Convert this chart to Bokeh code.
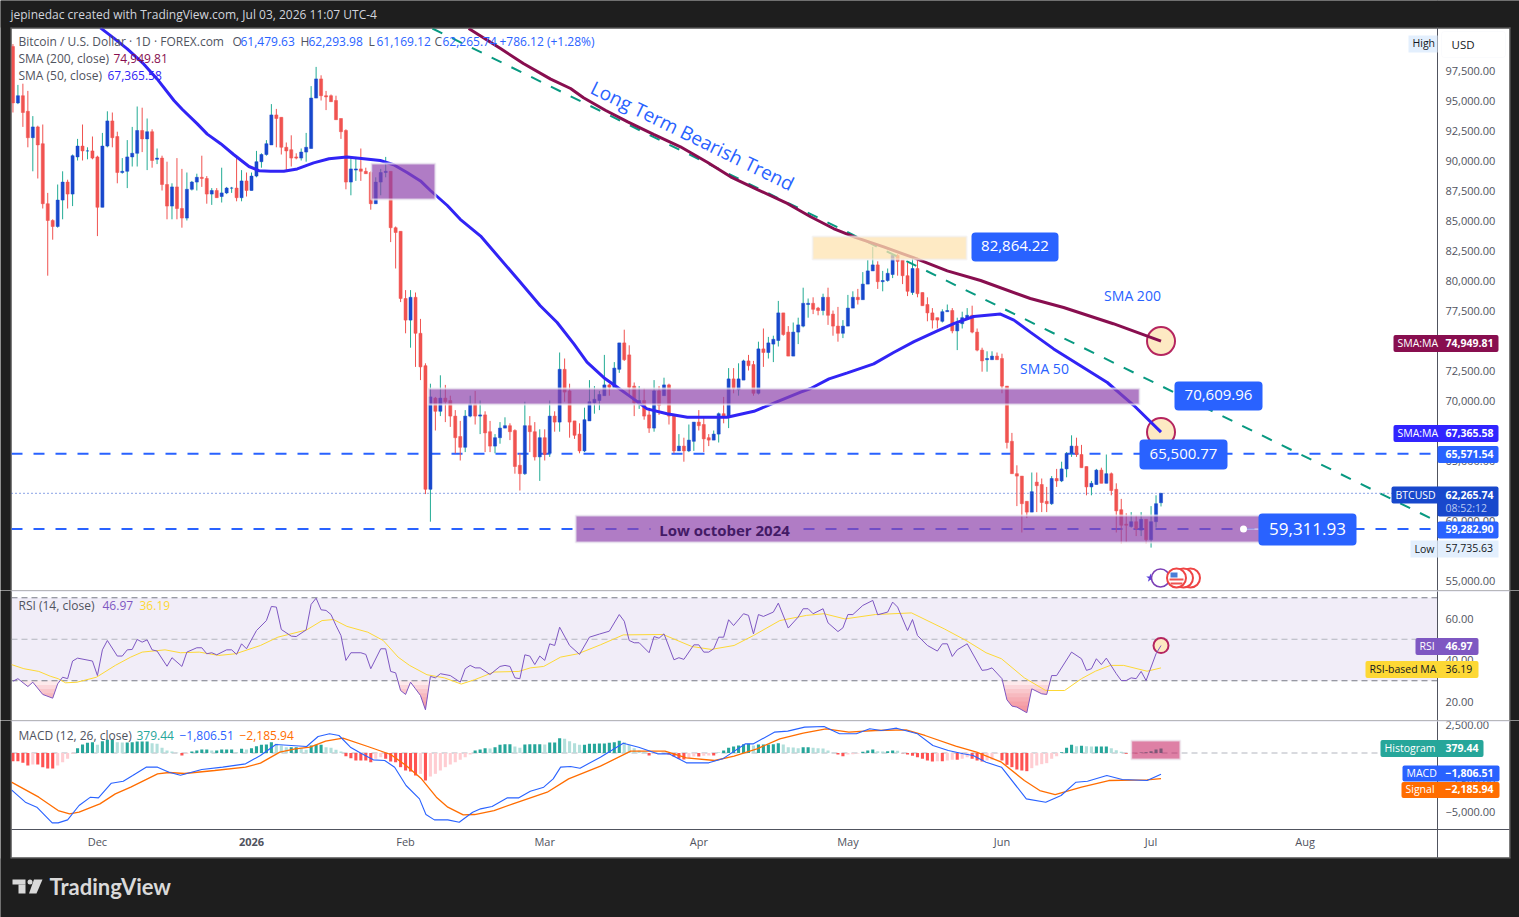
from bokeh.plotting import figure
from bokeh.layouts import column
from bokeh.embed import file_html
from bokeh.resources import INLINE
from bokeh.models import (Range1d, FixedTicker, NumeralTickFormatter, Label, BoxAnnotation,
                          PolyAnnotation, LinearAxis)
import numpy as np

# ---------- candles, prices in thousands of USD ----------
opens = [99.5,94.8,95.4,94.1,91.9,92.8,91.4,86.4,85.0,84.5,
 86.7,88.2,87.2,90.3,91.2,90.8,90.8,90.3,86.1,91.2,
 93.3,92.0,89.0,89.1,90.3,90.6,92.5,91.8,92.4,90.1,
 90.2,88.0,86.2,87.8,86.0,85.2,87.6,88.2,88.6,88.5,
 87.2,87.5,87.0,87.3,87.7,87.7,86.9,88.3,87.5,88.7,
 89.9,90.5,91.3,93.8,93.6,91.1,90.9,90.3,90.2,90.7,
 91.0,95.2,96.8,95.4,95.4,95.0,93.5,92.5,88.2,89.2,
 89.3,89.1,89.0,86.4,88.2,89.0,89.1,84.4,84.1,78.5,
 76.7,78.6,75.6,72.9,62.6,70.2,69.1,70.2,70.0,68.7,
 67.0,66.1,68.7,69.7,68.7,68.8,67.4,66.2,66.9,67.7,
 67.9,67.5,64.6,63.9,67.9,67.4,65.3,66.9,65.6,68.7,
 68.2,72.6,70.8,68.3,67.2,65.8,68.3,69.8,70.0,70.4,
 71.3,71.1,72.6,74.8,73.8,71.2,69.7,70.0,68.8,67.7,
 70.8,70.4,71.3,68.7,65.8,66.2,65.8,66.6,68.2,68.0,
 66.9,66.7,67.2,68.9,68.6,71.8,70.9,71.7,73.3,73.0,
 70.6,74.3,74.0,74.7,75.0,77.3,75.7,73.7,75.7,76.2,
 78.0,78.1,77.7,77.5,78.6,77.2,76.2,75.6,76.2,77.7,
 78.6,78.4,79.7,80.8,81.3,79.9,80.0,80.5,82.1,81.7,
 80.4,79.0,81.0,79.0,78.0,77.3,76.9,76.6,77.4,77.5,
 75.8,76.4,76.8,77.1,75.7,74.2,73.4,73.4,73.7,73.5,
 71.2,66.6,63.9,63.7,61.6,60.7,63.2,63.0,61.6,61.4,
 63.5,63.3,64.3,65.6,66.2,65.5,64.5,62.8,63.0,64.2,
 63.1,63.9,62.6,60.9,59.7,59.5,59.9,59.2,60.1,58.4,59.9,61.48]
highs = [99.7,96.3,96.4,95.8,93.7,92.9,93.0,87.3,85.1,88.0,
 89.1,88.4,90.5,91.8,93.0,91.1,92.0,90.4,92.3,94.1,
 94.0,92.4,90.2,91.7,92.8,94.5,94.4,93.5,92.6,91.0,
 90.4,89.9,88.1,90.2,89.3,89.0,88.3,88.9,90.4,88.7,
 87.7,87.7,89.4,87.8,87.8,90.3,89.2,89.0,89.0,90.8,
 90.6,91.7,94.7,94.3,93.6,91.5,92.1,90.6,91.0,92.3,
 96.2,97.8,97.1,95.8,95.5,95.4,93.5,92.6,90.3,90.3,
 91.0,89.4,89.1,88.6,89.3,90.3,89.1,84.5,84.1,79.2,
 79.2,79.0,76.8,73.1,71.4,70.3,72.1,71.3,70.4,69.2,
 68.3,69.2,70.4,70.8,70.0,69.1,68.3,67.2,68.2,68.6,
 68.1,67.6,65.6,69.9,68.7,68.2,67.6,67.6,70.0,69.1,
 74.0,73.5,71.4,68.3,68.1,69.4,71.7,71.2,70.8,73.8,
 71.4,73.2,74.8,75.9,74.6,71.5,71.2,71.0,69.4,71.7,
 71.2,71.9,71.4,68.7,67.2,66.9,68.0,68.2,69.2,68.7,
 67.2,67.5,69.0,70.3,72.7,72.7,73.1,73.4,73.8,73.3,
 74.9,76.0,75.3,75.4,78.3,77.3,76.2,76.5,76.9,79.4,
 78.5,78.6,77.8,78.9,79.4,77.5,77.8,76.7,78.8,79.1,
 79.3,80.7,81.7,82.8,81.6,80.8,81.0,82.2,82.2,81.7,
 81.5,81.9,81.9,79.0,78.6,77.7,76.9,77.6,78.0,77.7,
 76.9,77.4,77.7,77.9,76.0,74.4,74.1,74.1,74.0,73.9,
 71.2,67.3,64.6,63.7,61.6,64.0,64.0,63.5,62.8,63.7,
 64.3,64.9,65.7,67.1,66.9,66.3,64.5,63.3,64.3,64.4,
 65.5,64.0,63.1,61.8,60.6,60.7,60.4,60.7,60.1,61.2,62.1,62.29]
lows = [94.0,94.7,92.8,91.1,89.1,88.5,86.0,80.4,83.4,84.4,
 85.1,86.0,86.2,90.0,90.0,90.1,90.1,83.7,86.1,91.1,
 91.1,88.1,88.9,87.7,89.5,89.5,90.7,89.2,89.4,89.7,
 87.5,85.1,85.1,85.1,84.4,85.0,87.5,87.5,87.8,86.4,
 86.3,86.9,86.5,87.2,87.3,86.6,86.6,87.0,87.5,88.6,
 89.4,90.4,91.3,91.1,90.5,89.1,89.5,90.1,90.0,89.9,
 91.0,95.2,95.0,94.2,94.9,93.4,91.8,87.6,87.1,88.3,
 88.3,88.9,85.9,86.4,87.1,88.6,83.2,81.0,78.2,75.6,
 74.4,72.8,71.7,62.2,59.9,67.5,68.7,68.2,67.8,65.6,
 65.0,65.7,68.6,68.0,67.2,65.7,65.7,65.6,66.4,67.7,
 66.7,63.9,62.5,63.8,65.7,65.0,63.3,65.0,65.3,67.4,
 67.4,69.9,66.9,66.8,65.6,65.7,68.3,68.9,69.2,70.4,
 70.4,71.1,72.3,73.3,70.4,68.7,69.3,68.4,67.3,67.4,
 68.8,70.4,68.0,65.6,65.8,64.9,65.7,65.8,67.5,65.7,
 66.2,66.7,66.5,68.1,67.7,70.6,70.4,71.7,72.5,70.4,
 70.5,72.8,73.5,73.2,74.5,75.4,73.7,73.7,74.7,76.1,
 76.9,77.2,77.1,77.1,76.3,75.4,74.9,75.2,76.2,77.7,
 78.0,78.4,79.7,80.8,79.3,79.1,79.9,80.2,80.4,79.7,
 78.7,78.8,78.6,77.9,76.6,76.0,76.0,76.5,77.4,75.6,
 74.2,76.0,76.8,75.6,74.1,72.4,72.4,73.4,73.4,70.6,
 66.0,63.9,61.2,59.0,60.2,60.7,60.7,60.7,60.7,61.3,
 62.8,63.2,63.6,65.3,65.3,64.4,62.1,62.1,63.0,63.1,
 63.1,62.1,59.0,58.1,58.2,59.4,58.7,58.7,58.1,57.74,59.4,61.17]
closes = [94.8,95.4,94.0,91.9,92.8,91.3,86.4,85.0,84.5,86.7,
 88.2,87.2,90.4,91.2,90.8,90.8,90.2,86.1,91.2,93.3,
 91.9,89.0,89.1,90.3,90.6,92.5,91.8,92.4,90.0,90.2,
 88.0,86.2,87.8,86.0,85.2,87.6,88.2,88.6,88.5,87.2,
 87.5,86.9,87.3,87.7,87.7,86.9,88.3,87.5,88.7,89.9,
 90.5,91.4,93.8,93.5,91.1,90.8,90.2,90.2,90.7,91.1,
 95.2,96.8,95.4,95.3,94.9,93.4,92.4,88.2,89.3,89.3,
 89.1,88.9,86.4,88.2,89.0,89.1,84.4,84.0,78.5,76.7,
 78.6,75.6,72.8,62.6,70.3,69.1,70.2,69.9,68.7,66.9,
 66.1,68.7,69.7,68.7,68.8,67.3,66.2,66.9,67.7,67.9,
 67.4,64.5,63.9,67.9,67.4,65.3,66.9,65.5,68.7,68.2,
 72.6,70.7,68.2,67.1,65.8,68.4,69.9,70.1,70.5,71.3,
 71.1,72.7,74.8,73.4,71.1,69.8,70.0,68.7,67.7,70.8,
 69.6,71.3,68.7,65.8,66.2,65.8,66.7,68.2,67.9,66.8,
 66.7,67.2,68.9,68.7,71.8,71.0,71.8,73.3,72.9,70.6,
 74.3,74.0,74.8,75.1,77.3,75.5,73.7,75.7,76.3,78.1,
 78.1,77.6,77.5,78.6,77.1,76.2,75.6,76.2,77.7,78.6,
 78.4,79.7,80.8,81.3,79.9,80.0,80.6,82.1,81.6,80.4,
 79.1,81.0,78.9,77.9,77.3,76.7,76.7,77.4,77.5,75.8,
 76.4,76.9,77.1,75.7,74.2,73.3,73.5,73.7,73.4,71.2,
 66.5,63.9,63.7,61.4,60.7,62.4,62.9,61.5,61.4,63.5,
 63.3,64.3,65.6,66.2,65.5,64.4,62.8,63.1,64.2,63.1,
 63.9,62.5,60.8,59.6,59.6,59.9,59.3,60.1,58.4,59.9,61.4,62.27]
first_day = -48   # days from 1 Jan 2026 of the first candle

# ---------- moving averages (day, price in thousands) ----------
sma50_days = [-30.4,-27.7,-25,-21.7,-19,-15.6,-13.9,-10.9,-8.9,-6.2,-3.6,-0.5,1.5,3.8,6.5,9.2,12.5,15.6,19.2,22.6,25.9,28.6,31.3,34,36,39.4,42,46.1,
 53.8,58.1,61.5,64.9,67.5,70.9,73.6,76.3,79.6,83.6,87.7,91.7,95.7,101.1,105.8,110.5,112.5,116.2,119.9,125.2,129.2,133.3,138,141.3,145.3,150.7,153.4,156.7,161.4,166.8,172.2,177.5,183]
sma50_vals = [101.05,100.2,99.3,98.05,96.8,95.0,94.25,93.05,92.2,91.4,90.5,89.5,89.15,89.1,89.1,89.3,89.8,90.15,90.3,90.15,90.0,89.65,89.0,88.3,87.5,86.25,85.1,83.7,
 80.0,77.9,76.5,74.7,73.2,71.9,71.1,70.3,69.3,68.9,68.6,68.6,68.6,69.1,69.9,70.7,71.0,71.8,72.3,73.05,74.0,74.9,75.8,76.4,77.0,77.2,76.7,75.7,74.3,72.9,71.5,69.6,67.37]
sma200_days = [43.7,50.1,54.7,60.2,64.2,66.8,71.2,75.7,80.9,86.3,91.8,96.4,101.8,107.8,112.5,117.1,121.5,127.2,133.2,140,146.7,156.7,163.4,173.4,183]
sma200_vals = [101.0,99.33,98.08,96.78,96.0,95.23,94.19,93.22,92.17,91.14,89.83,88.64,87.58,86.42,85.31,84.33,83.6,82.8,81.9,80.8,80.0,78.5,77.75,76.4,74.95]

trend_days = [36.4, 237.2]
trend_vals = [101.0, 60.2]
level_prices = [65.57154, 59.2829]
last_close = 62.26574

# ---------- RSI ----------
rsi_days = [-48,-47,-45,-44,-42,-40,-39,-38,-37,-36,-35,-32,-31,-30,-29,-27,-26,-25,-24,-23,-22,-21,-20,-19,-17,-16,-14,-13,-11,-10,-9,-8,-7,-5,-4,-3,-2,-1,1,3,4,5,6,8,9,11,12,13,14,15,16,17,18,19,20,22,23,24,26,27,28,29,30,31,32,33,34,35,36,37,38,40,42,43,44,45,46,48,50,51,52,53,54,55,56,57,58,59,60,61,62,64,66,68,70,
 72,74,75,76,77,78,80,81,82,83,85,86,87,89,90,91,92,93,94,95,96,97,99,100,101,102,103,105,106,108,110,111,112,113,115,116,118,119,120,121,123,125,126,128,129,130,132,133,134,136,138,139,140,141,142,144,147,148,149,151,152,153,154,156,157,159,160,161,162,165,167,168,169,170,171,172,174,175,176,177,178,179,180,182,183]
rsi_vals = [29.8,31.0,27.2,29.3,23.4,21.6,28.5,31.7,31.0,39.5,40.9,39.5,32.5,44.9,49.4,41.9,41.9,44.9,45.1,49.9,48.6,49.7,44.9,44.3,37.0,41.1,36.9,43.8,45.9,45.9,43.0,43.5,42.5,44.9,44.9,42.7,47.8,45.4,54.2,59.0,65.8,65.5,54.7,51.5,51.3,54.5,66.8,69.8,64.2,63.9,61.9,56.6,51.8,39.8,43.5,43.5,42.7,35.8,45.4,45.4,34.5,33.8,25.3,23.4,29.3,26.1,22.9,16.0,32.1,31.4,33.4,32.5,29.3,35.8,37.4,36.2,36.2,33.0,36.9,37.4,36.9,31.4,31.0,42.5,41.9,37.8,41.9,39.8,47.8,47.0,55.8,47.0,42.7,51.0,52.5,
 53.9,61.9,58.7,49.4,48.3,48.3,43.5,51.3,50.5,52.6,40.1,41.1,40.3,47.3,47.3,43.8,43.8,45.4,51.0,51.0,59.4,56.6,62.3,61.5,52.6,61.9,61.0,63.1,67.4,55.4,60.7,64.7,64.7,62.3,64.7,57.9,53.7,55.5,61.9,61.9,66.3,68.7,61.8,63.1,67.9,65.5,54.2,59.5,51.8,47.0,44.3,47.8,47.8,41.7,44.9,47.8,35.0,35.3,36.2,31.0,20.8,17.8,17.3,14.6,26.1,23.7,23.4,32.5,32.5,43.8,40.6,35.0,35.8,40.6,37.8,40.9,33.4,30.1,30.1,31.4,31.0,34.5,30.1,43.0,46.97]
rsima_days = [-48.3,-45.8,-42.8,-40.5,-38.9,-37.4,-35.1,-31.2,-27.4,-24.3,-22,-17.4,-14.3,-10.5,-6.6,-3.2,1.8,5.3,11.1,14.2,16.5,19.2,23.4,26.5,29.5,31.8,35.3,38.8,42.2,44.9,48.8,53.8,56.1,58.8,62.2,65.7,70.2,
 74.8,82.8,88.6,92.5,97.1,101,106.3,111.7,115.2,119.4,125.5,132.8,139.4,144,147.8,150.9,155.5,159.8,163.6,167,169.8,172.8,175.5,180.2,183]
rsima_vals = [37.8,35.8,34.5,32.2,31.0,29.0,29.3,31.7,37.4,41.4,43.8,44.9,43.5,43.8,42.2,43.0,47.0,51.0,54.5,59.0,59.5,56.2,53.4,49.4,41.4,37.4,32.9,31.4,28.4,30.5,34.2,34.5,36.2,36.9,41.4,43.0,47.3,
 52.1,52.3,46.5,45.1,47.0,51.8,59.0,61.5,62.3,59.8,61.9,62.7,55.0,49.1,43.5,40.6,31.4,25.3,25.3,31.0,34.6,37.4,37.4,34.6,36.19]

# ---------- MACD ----------
macd_days = [-48.3,-45.5,-43.2,-40.1,-38.9,-37,-34.7,-32.4,-30.8,-28.2,-25.8,-23.9,-21.2,-18.9,-16.6,-14.3,-10,-5.8,-1.2,1.8,4.9,11.1,13.4,15.7,17.6,19.9,22.2,24.5,26.8,28.8,31.1,33.8,35.1,36.8,39.5,41.8,44.5,46.1,48.4,51.5,53.8,56.1,58.8,60.7,62.2,64.2,66.1,70.2,
 74.8,77.9,81.7,84,87.5,92,94.8,99.4,101,105.2,107.9,111.3,115.2,118.3,121.7,124.4,126.7,129.8,134,137.1,140.2,143.2,145.2,147.8,150.9,155.9,159.8,162.9,165.9,168.2,172.1,175.2,180.2,183]
macd_vals = [-3149,-4204,-4631,-5971,-5971,-5714,-4489,-3776,-3833,-2579,-2408,-1924,-1211,-1211,-1639,-1895,-1411,-1211,-926,-214,727,556,1411,1639,1496,499,-71,-584,-641,-1211,-2779,-3919,-5258,-5714,-5714,-5914,-5059,-4774,-4574,-3833,-3833,-3263,-2921,-2209,-1211,-1154,-1297,-356,
 841,499,-71,-71,-841,-841,-499,784,784,1781,1867,2209,2266,1639,1639,2066,1924,2123,1639,641,214,-71,-214,-784,-1211,-3919,-4204,-3634,-2494,-2408,-1924,-2266,-2351,-1806.51]
signal_days = [-48.3,-42.8,-38.9,-36.6,-34.7,-30.5,-27.4,-24.3,-18.9,-16.6,-13.5,-7.4,-1.2,1.8,5.7,8.8,11.8,14.9,18.4,23.4,28,31.1,34.2,37.2,39.5,42.6,44.9,48.8,52.6,59.5,63.8,70.2,
 76.3,83.2,87.5,93.2,97.1,101.7,106.3,111,115.6,120.2,125.5,131.7,135.5,141.7,145.9,150.9,155.5,158.6,161.7,167,172.5,180.2,183]
signal_vals = [-2494,-3776,-4916,-5201,-5059,-4346,-3491,-2921,-1781,-1667,-1753,-1496,-1211,-869,71,356,499,1012,1268,556,-128,-1069,-2209,-3776,-4631,-5287,-5258,-4916,-4346,-3349,-2209,-1126,
 157,157,-413,-641,-271,356,1211,1696,2066,1781,1924,1981,1496,584,71,-784,-2351,-3206,-3548,-2921,-2351,-2294,-2185.94]
hist_vals = [-698,-698,-841,-1069,-983,-983,-1211,-1325,-1325,-1069,-784,-499,-71,413,727,869,926,698,1012,1126,
 1126,926,898,898,926,983,983,983,841,784,442,214,128,14,-214,-71,128,214,299,299,
 214,214,299,299,299,71,356,299,413,584,698,727,926,784,641,499,499,499,413,271,
 641,698,698,499,442,271,128,-271,-442,-641,-641,-641,-784,-499,-356,-499,-727,-784,-1211,-1496,
 -1582,-1924,-1781,-2351,-2009,-1781,-1496,-1211,-983,-784,-584,-356,-128,214,299,413,385,499,698,755,
 755,556,442,727,755,755,755,727,898,898,1268,1211,1012,841,698,698,784,784,812,812,
 869,926,1040,926,698,413,214,100,-214,-71,-14,-43,-128,-299,-499,-556,-442,-299,-299,-242,
 -214,-214,14,214,442,556,641,755,784,641,727,727,727,755,841,727,499,470,413,499,
 499,442,413,385,214,14,-128,-271,-128,-100,-43,100,214,299,157,128,157,214,185,-14,
 -128,-242,-356,-499,-641,-727,-698,-698,-641,-584,-584,-499,-356,-499,-641,-727,-641,-584,-43,-641,
 -1012,-1211,-1411,-1496,-1553,-1297,-1069,-955,-869,-499,-271,71,442,698,584,613,584,556,556,556,
 556,413,242,100,-71,-14,-14,43,71,157,299,379.44]

# ---------- axis ticks ----------
price_ticks = list(range(55000, 100000, 2500))
rsi_ticks = [20, 40, 60]
macd_ticks = [-5000, -2500, 0, 2500]
month_days = [-31, 31, 59, 90, 120, 151, 181, 212]
month_names = ["Dec", "Feb", "Mar", "Apr", "May", "Jun", "Jul", "Aug"]

# ---------- styling ----------
FONT = "Open Sans"
DARK = "#1e1e1e"
BLUE = "#2962ff"
UP_BODY, UP_WICK, DOWN = "#1848cc", "#22ab94", "#f05350"
AXIS_TXT = "#50535e"
EDGE = "#50535e"
SEP = "#e0e0f0"
PURPLE = "#8e44ad"
FRAME = "#6a6a6a"

PX_L, PX_R = 11, 1437
fx = lambda px: (px - 251) / 4.97
x_range = Range1d(fx(0), fx(1519))
fyM = lambda py: 97500 + (70 - py) / 0.012
fyR = lambda py: 60 + (618 - py) / 2.075
fyD = lambda py: (752.5 - py) * 85.47

def make_pane(h, fy, top_px, ticks, overrides=None):
    # the frame fills the whole canvas; the price axis is pinned to its place in the frame
    p = figure(width=1519, height=h, x_range=x_range, y_range=Range1d(fy(top_px + h), fy(top_px)),
               output_backend="svg", toolbar_location=None,
               x_axis_location=None, y_axis_location=None,
               min_border=0, min_border_left=0, min_border_right=0,
               min_border_top=0, min_border_bottom=0,
               border_fill_color=DARK, background_fill_color=DARK)
    p.outline_line_color = None
    p.grid.visible = False
    ax = LinearAxis(fixed_location=fx(PX_R), ticker=FixedTicker(ticks=ticks),
                    formatter=NumeralTickFormatter(format="0,0.00"))
    if overrides:
        ax.major_label_overrides = overrides
    ax.major_tick_line_color = None
    ax.minor_tick_line_color = None
    ax.axis_line_color = EDGE
    ax.major_label_standoff = 2
    ax.major_label_text_font = FONT
    ax.major_label_text_font_size = "11px"
    ax.major_label_text_color = AXIS_TXT
    p.add_layout(ax, "right")
    return p

pM = make_pane(590, fyM, 0, price_ticks)
pR = make_pane(130, fyR, 590, rsi_ticks)
pD = make_pane(197, fyD, 720, macd_ticks, {-5000: "−5,000.00", -2500: "−2,500.00"})

def box(p, fy, x0, x1, y0, y1, color, level="annotation", radius=0, line=None, alpha=1.0):
    p.add_layout(BoxAnnotation(left=fx(x0), right=fx(x1), top=fy(y0), bottom=fy(y1),
                               fill_color=color, fill_alpha=alpha, line_color=line, level=level,
                               border_radius=radius, editable=False))

def txt(p, fy, x, y, text, size=12, color="#131722", align="left", style="normal", angle=0, font=FONT):
    p.add_layout(Label(x=fx(x), y=fy(y - 0.8), text=text, text_font=font, text_font_size=f"{size}px",
                       text_color=color, text_align=align, text_baseline="middle",
                       text_font_style=style, angle=angle, angle_units="deg"))

def tag(p, fy, y, value, vcolor, x_val_end=1498, name=None, x_name=None, tcolor="white", h=8.5):
    if name:
        box(p, fy, x_name, 1440, y - h, y + h, vcolor, radius=2)
    box(p, fy, 1437, x_val_end, y - h, y + h, vcolor, radius=2)
    if name:
        txt(p, fy, x_name + 4, y, name, 10.5, tcolor)
    txt(p, fy, 1445, y, value, 10.5, tcolor, style="bold" if tcolor == "white" else "normal")

# white chart area under everything
box(pM, fyM, 11, 1509, 28, 590, "white", level="underlay")
box(pR, fyR, 11, 1509, 590, 720, "white", level="underlay")
box(pD, fyD, 11, 1509, 720, 857, "white", level="underlay")

# dark top band hides what leaves the price pane at the top; chart frame
box(pM, fyM, 0, 1519, 0, 27, DARK)
box(pM, fyM, 10, 1510, 27, 28, FRAME)
for p_, f_, a_, b_ in ((pM, fyM, 27, 590), (pR, fyR, 590, 720), (pD, fyD, 720, 858)):
    box(p_, f_, 10, 11, a_, b_, FRAME)
    box(p_, f_, 1509, 1510, a_, b_, FRAME)
box(pD, fyD, 0, 1519, 858, 917, DARK)
box(pD, fyD, 10, 1510, 857, 858, FRAME)
box(pD, fyD, 11, 1509, 828.5, 829.5, EDGE)
box(pR, fyR, 11, 1509, 590, 591, SEP)
box(pD, fyD, 11, 1509, 720, 721, SEP)

# ---------- main pane ----------
days = first_day + np.arange(len(closes))
o, h, l, c = (np.array(a) * 1000 for a in (opens, highs, lows, closes))
up = c >= o

# circles under the lines
pM.scatter([183], [sma200_vals[-1] * 1000], size=28, fill_color="#fde9c3", line_color="#b5255f", line_width=2)
pM.scatter([183], [sma50_vals[-1] * 1000], size=28, fill_color="#fde9c3", line_color="#b5255f", line_width=2)

for lv in level_prices:
    pM.line([fx(PX_L), fx(PX_R)], [lv * 1000] * 2, color=BLUE, line_width=2, line_dash="11 11")
pM.line([fx(PX_L), fx(PX_R)], [last_close * 1000] * 2, color=UP_BODY, line_width=1, line_dash="1 3")

pM.segment(days[up], l[up], days[up], h[up], color=UP_WICK, line_width=1)
pM.segment(days[~up], l[~up], days[~up], h[~up], color=DOWN, line_width=1)
pM.vbar(days[up], 0.62, o[up], c[up], fill_color=UP_BODY, line_color=UP_BODY, line_width=0.5)
pM.vbar(days[~up], 0.62, c[~up], o[~up], fill_color=DOWN, line_color=DOWN, line_width=0.5)

pM.line(trend_days, np.array(trend_vals) * 1000, color="#089981", line_width=2, line_dash="11 11")
pM.line(sma200_days, np.array(sma200_vals) * 1000, color="#880e4f", line_width=3)
pM.line(sma50_days, np.array(sma50_vals) * 1000, color="#3124f5", line_width=3)

# zones
zones = [(24.1, 37.0, 86750, 89750), (35.6, 178.7, 69670, 71000), (65.2, 204.0, 58170, 60420)]
for z in zones:
    pM.quad(left=z[0], right=z[1], bottom=z[2], top=z[3], fill_color=PURPLE, fill_alpha=0.7,
            line_color="#f0f0f3", line_alpha=0.7, line_width=2)
pM.quad(left=112.9, right=143.9, bottom=81750, top=83670, fill_color="#fde3b0", fill_alpha=0.75,
        line_color="#f0f0f3", line_alpha=0.6, line_width=2)

# node and icons
pM.line([fx(1243), fx(1258)], [59282.9] * 2, color="#dfe7ff", line_width=1)
pM.scatter([fx(1243)], [59282.9], size=7, fill_color="white", line_color=None)
icon_y = fyM(577.5)
pM.scatter([fx(1150)], [icon_y], marker="star", size=9, fill_color="#5a3fd8", line_color=None)
pM.scatter([fx(1160)], [icon_y], size=18, fill_color="white", line_color="#7b3fb5", line_width=1.5)
for ix in (1190, 1183, 1176):
    pM.scatter([fx(ix)], [icon_y], size=19, fill_color="white", line_color="#ef4444", line_width=2)
box(pM, fyM, 1170, 1177, 572, 577, "#4a7fd8")
box(pM, fyM, 1169, 1183, 578, 580, "#ef5350")
box(pM, fyM, 1170, 1182, 582, 584, "#ef5350")

# annotation texts
txt(pM, fyM, 692, 136, "Long Term Bearish Trend", 19, BLUE, align="center", angle=-26.2)
txt(pM, fyM, 1132, 296, "SMA 200", 14, BLUE, align="center")
txt(pM, fyM, 1044, 369, "SMA 50", 14, BLUE, align="center")
box(pM, fyM, 650, 798, 523, 537, "#b07cc5")
txt(pM, fyM, 724, 530, "Low october 2024", 15, "#431a66", align="center", style="bold")
for xa_, xb_, ya_, yb_, s, fs in ((971, 1058, 232, 261, "82,864.22", 15), (1174, 1262, 381, 410, "70,609.96", 15),
                                  (1139, 1227, 439, 469, "65,500.77", 15), (1258, 1356, 513, 545, "59,311.93", 17)):
    box(pM, fyM, xa_, xb_, ya_, yb_, BLUE, radius=4)
    txt(pM, fyM, (xa_ + xb_) / 2, (ya_ + yb_) / 2, s, fs, "white", align="center")

# header of the page, legend
txt(pM, fyM, 10, 14.8, "jepinedac created with TradingView.com, Jul 03, 2026 11:07 UTC-4", 12, "#d1d4dc")
LEG = "#50535e"
txt(pM, fyM, 18, 42, "Bitcoin / U.S. Dollar · 1D · FOREX.com", 12, LEG)
for xl, xv, name, val in ((232, 240, "O", "61,479.63"), (300, 308, "H", "62,293.98"),
                          (368, 376, "L", "61,169.12"), (434, 442, "C", "62,265.74")):
    txt(pM, fyM, xl, 42, name, 12, LEG)
    txt(pM, fyM, xv, 42, val, 12, BLUE)
txt(pM, fyM, 499, 42, "+786.12 (+1.28%)", 12, BLUE)
txt(pM, fyM, 18, 59, "SMA (200, close)", 12, LEG)
txt(pM, fyM, 113, 59, "74,949.81", 12, "#880e4f")
txt(pM, fyM, 18, 76, "SMA (50, close)", 12, LEG)
txt(pM, fyM, 107, 76, "67,365.58", 12, "#3124f5")

# right tags
box(pM, fyM, 1408, 1437, 35, 52, "#e3effd")
txt(pM, fyM, 1412, 43.5, "High", 10.5, "#131722")
box(pM, fyM, 1441, 1505, 31, 57, "white", line="#f0f3fa", radius=3)
txt(pM, fyM, 1451, 44.5, "USD", 11.5, "#131722")
tag(pM, fyM, 343, "74,949.81", "#880e4f", name="SMA:MA", x_name=1393)
tag(pM, fyM, 433, "67,365.58", "#3124ff", name="SMA:MA", x_name=1393)
tag(pM, fyM, 454, "65,571.54", BLUE)
box(pM, fyM, 1391, 1440, 486, 503, UP_BODY, radius=2)
box(pM, fyM, 1437, 1498, 486, 516, UP_BODY, radius=2)
txt(pM, fyM, 1395, 495, "BTCUSD", 10.5, "white")
txt(pM, fyM, 1445, 495, "62,265.74", 10.5, "white", style="bold")
txt(pM, fyM, 1445, 508, "08:52:12", 10.5, "#b9c8f3")
tag(pM, fyM, 529.5, "59,282.90", BLUE)
box(pM, fyM, 1410, 1437, 540, 557, "#e3effd")
box(pM, fyM, 1437, 1498, 540, 557, "#e3effd")
txt(pM, fyM, 1414, 549, "Low", 10.5, "#131722")
txt(pM, fyM, 1445, 548, "57,735.63", 10.5, "#131722")

# ---------- RSI pane ----------
rd = np.array(rsi_days, dtype=float)
rv = np.array(rsi_vals)
dense_x = np.arange(rd[0], rd[-1] + 0.05, 0.1)
dense_y = np.interp(dense_x, rd, rv)
pR.quad(left=fx(PX_L), right=fx(PX_R), bottom=30, top=70, fill_color="#7e57c2", fill_alpha=0.11, line_color=None)
# stacked layers below the oversold line give the fade towards the lows
for lv in (30, 28, 26, 24, 22, 20, 18, 16):
    pR.varea(dense_x, np.minimum(dense_y, lv), np.full(dense_y.shape, float(lv)),
             fill_color="#f0606e", fill_alpha=0.13)
for lv, col in ((70, "#787b86"), (50, "#b2b5be"), (30, "#787b86")):
    pR.line([fx(PX_L), fx(PX_R)], [lv, lv], color=col, line_width=1, line_dash="6 4")
pR.scatter([183], [46.97], size=15, fill_color="#fde9c3", line_color="#b5255f", line_width=2)
pR.line(rsima_days, rsima_vals, color="#fdd835", line_width=1)
pR.line(rsi_days, rsi_vals, color="#7e57c2", line_width=1)

txt(pR, fyR, 18, 606, "RSI (14, close)", 12, LEG)
txt(pR, fyR, 102, 606, "46.97", 12, "#7e57c2")
txt(pR, fyR, 139, 606, "36.19", 12, "#fdd835")
tag(pR, fyR, 646, "46.97", "#7e57c2", x_val_end=1478, name="RSI", x_name=1415)
tag(pR, fyR, 669, "36.19", "#fdd835", x_val_end=1478, name="RSI-based MA", x_name=1365, tcolor="#131722")

# ---------- MACD pane ----------
hv = np.array(hist_vals, dtype=float)
prev = np.concatenate(([hv[0]], hv[:-1]))
hcol = np.where(hv >= 0, np.where(hv >= prev, "#26a69a", "#b2dfdb"),
                np.where(hv <= prev, "#ff5252", "#ffcdd2"))
pD.line([fx(PX_L), fx(PX_R)], [0, 0], color="#b2b5be", line_width=1, line_dash="6 4")
pD.vbar(first_day + np.arange(len(hv)), 0.62, 0, hv, fill_color=list(hcol), line_color=None)
pD.line(signal_days, signal_vals, color="#ff6d00", line_width=1.3)
pD.line(macd_days, macd_vals, color=BLUE, line_width=1.1)
pD.quad(left=177.0, right=186.9, bottom=-556, top=1068, fill_color="#c2185b", fill_alpha=0.55,
        line_color="#f0f0f3", line_alpha=0.7, line_width=2)

xa = LinearAxis(fixed_location=fyD(829), ticker=FixedTicker(ticks=month_days),
                major_label_overrides=dict(zip(month_days, month_names)))
xa.major_tick_line_color = None
xa.minor_tick_line_color = None
xa.axis_line_color = None
xa.major_label_standoff = -2
xa.major_label_text_font = FONT
xa.major_label_text_font_size = "11px"
xa.major_label_text_color = AXIS_TXT
pD.add_layout(xa, "below")

txt(pD, fyD, 18, 736, "MACD (12, 26, close)", 12, LEG)
txt(pD, fyD, 136, 736, "379.44", 12, "#26a69a")
txt(pD, fyD, 179, 736, "−1,806.51", 12, BLUE)
txt(pD, fyD, 239, 736, "−2,185.94", 12, "#ff6d00")
tag(pD, fyD, 748, "379.44", "#26a69a", x_val_end=1483, name="Histogram", x_name=1380)
tag(pD, fyD, 773, "−1,806.51", BLUE, x_val_end=1499, name="MACD", x_name=1402, h=8)
tag(pD, fyD, 789.5, "−2,185.94", "#ff6d00", x_val_end=1499, name="Signal", x_name=1401, h=8)
txt(pD, fyD, 251, 842, "2026", 11, AXIS_TXT, align="center", style="bold")

# footer logo
box(pD, fyD, 12, 25, 879, 884, "#d9d9d9")
box(pD, fyD, 18, 25, 884, 893, "#d9d9d9")
box(pD, fyD, 27, 32, 879, 884, "#d9d9d9", radius=3)
pD.add_layout(PolyAnnotation(xs=[fx(33.5), fx(42), fx(36), fx(28.5)],
                             ys=[fyD(879), fyD(879), fyD(893), fyD(893)],
                             fill_color="#d9d9d9", fill_alpha=1, line_color=None))
txt(pD, fyD, 49, 887, "TradingView", 22, "#d9d9d9", style="bold", font="Lato")

layout = column(pM, pR, pD, spacing=0)

open("out.html", "w").write(file_html(layout, INLINE))
